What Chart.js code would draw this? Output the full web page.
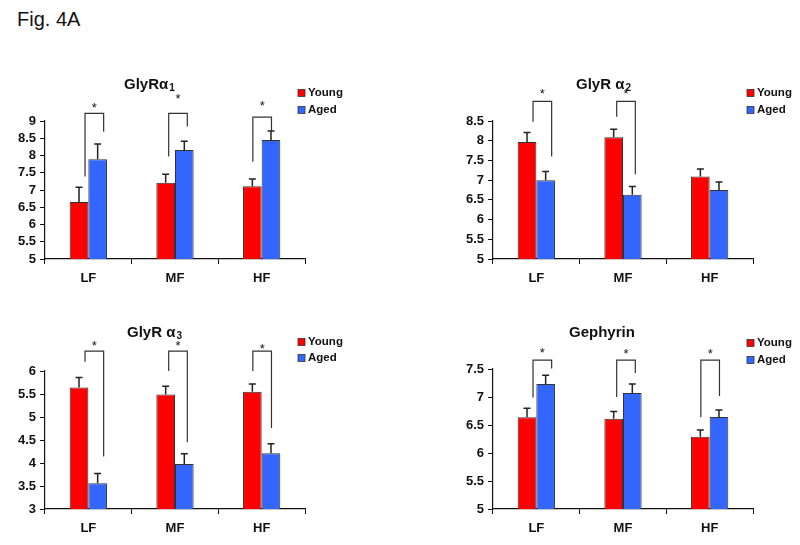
<!DOCTYPE html>
<html>
<head>
<meta charset="utf-8">
<script src="https://cdn.jsdelivr.net/npm/chart.js@4"></script>
<style>
  body { margin: 0; background: #fff; }
  #page { position: relative; width: 800px; height: 545px; overflow: hidden; }
  #fig { position: absolute; left: 17px; top: 8px; font: 20px "Liberation Sans", Arial, sans-serif; color: #111; }
  canvas { position: absolute; }
</style>
</head>
<body>
<div id="page">
  <div id="fig">Fig. 4A</div>
  <canvas id="c1" width="400" height="240" style="left:0;top:60px"></canvas>
  <canvas id="c2" width="400" height="240" style="left:400px;top:60px"></canvas>
  <canvas id="c3" width="400" height="245" style="left:0;top:300px"></canvas>
  <canvas id="c4" width="400" height="245" style="left:400px;top:300px"></canvas>
</div>
<script>
const categories = ["LF", "MF", "HF"];
const seriesNames = ["Young", "Aged"];

// GlyR alpha1
const a1Young = [6.65, 7.21, 7.11];
const a1YoungErr = [0.43, 0.25, 0.21];
const a1Aged = [7.89, 8.16, 8.45];
const a1AgedErr = [0.44, 0.25, 0.26];
const a1Ticks = [5, 5.5, 6, 6.5, 7, 7.5, 8, 8.5, 9];
const a1BracketTop = [9.22, 9.22, 9.11];
const a1BracketYoung = [7.39, 7.97, 7.82];
const a1BracketAged = [8.69, 8.84, 8.71];
const a1Star = [9.46, 9.72, 9.52];

// GlyR alpha2
const a2Young = [7.97, 8.09, 7.09];
const a2YoungErr = [0.24, 0.2, 0.19];
const a2Aged = [7.0, 6.63, 6.75];
const a2AgedErr = [0.22, 0.21, 0.2];
const a2Ticks = [5, 5.5, 6, 6.5, 7, 7.5, 8, 8.5];
const a2BracketTop = [9.0, 9.0, null];
const a2BracketYoung = [8.48, 8.61, null];
const a2BracketAged = [7.6, 7.15, null];
const a2Star = [9.24, 9.24, null];

// GlyR alpha3
const a3Young = [5.64, 5.49, 5.55];
const a3YoungErr = [0.22, 0.18, 0.17];
const a3Aged = [3.56, 3.98, 4.21];
const a3AgedErr = [0.21, 0.22, 0.21];
const a3Ticks = [3, 3.5, 4, 4.5, 5, 5.5, 6];
const a3BracketTop = [6.43, 6.43, 6.43];
const a3BracketYoung = [6.2, 6.0, 6.0];
const a3BracketAged = [4.14, 4.45, 4.76];
const a3Star = [6.61, 6.61, 6.54];

// Gephyrin
const gYoung = [6.64, 6.61, 6.29];
const gYoungErr = [0.16, 0.13, 0.12];
const gAged = [7.23, 7.07, 6.645];
const gAgedErr = [0.16, 0.16, 0.125];
const gTicks = [5, 5.5, 6, 6.5, 7, 7.5];
const gBracketTop = [7.66, 7.66, 7.66];
const gBracketYoung = [6.99, 7.0, 6.64];
const gBracketAged = [7.51, 7.43, 7.02];
const gStar = [7.84, 7.82, 7.82];

const FONT = '"Liberation Sans", Arial, sans-serif';
const RED = "#ff0000";
const BLUE = "#3366ff";
const bracketShift = [6, 3, 0.5];

const panelDecor = {
  id: "panelDecor",
  afterDatasetsDraw(chart) {
    const ctx = chart.ctx;
    const y = chart.scales.y;
    ctx.save();
    ctx.strokeStyle = "#222";
    ctx.lineWidth = 1.5;
    chart.data.datasets.forEach((ds, di) => {
      chart.getDatasetMeta(di).data.forEach((bar, i) => {
        const top = y.getPixelForValue(ds.data[i] + ds.errors[i]);
        ctx.beginPath();
        ctx.moveTo(bar.x, bar.y);
        ctx.lineTo(bar.x, top);
        ctx.moveTo(bar.x - 3.5, top);
        ctx.lineTo(bar.x + 3.5, top);
        ctx.stroke();
      });
    });
    ctx.restore();
  },
  afterDraw(chart, args, o) {
    const ctx = chart.ctx;
    const y = chart.scales.y;
    const young = chart.getDatasetMeta(0).data;
    const aged = chart.getDatasetMeta(1).data;
    ctx.save();

    // significance brackets
    ctx.strokeStyle = "#333";
    ctx.lineWidth = 1.2;
    ctx.fillStyle = "#111";
    ctx.font = "13px " + FONT;
    ctx.textAlign = "center";
    ctx.textBaseline = "middle";
    o.top.forEach((t, i) => {
      if (t == null) return;
      const xl = young[i].x + bracketShift[i];
      const xr = aged[i].x + bracketShift[i];
      const yt = y.getPixelForValue(t);
      ctx.beginPath();
      ctx.moveTo(xl, y.getPixelForValue(o.youngEnd[i]));
      ctx.lineTo(xl, yt);
      ctx.lineTo(xr, yt);
      ctx.lineTo(xr, y.getPixelForValue(o.agedEnd[i]));
      ctx.stroke();
      ctx.fillText("*", (xl + xr) / 2, y.getPixelForValue(o.star[i]) + 3);
    });

    // title with subscript
    ctx.textAlign = "left";
    ctx.textBaseline = "alphabetic";
    ctx.font = "bold 15px " + FONT;
    ctx.fillText(o.title, o.titleX, o.titleY);
    if (o.sub) {
      const w = ctx.measureText(o.title).width;
      ctx.font = "bold 10px " + FONT;
      ctx.fillText(o.sub, o.titleX + w + 1, o.titleY + 1.5);
    }

    // legend
    ctx.font = "bold 11.5px " + FONT;
    ctx.textBaseline = "middle";
    chart.data.datasets.forEach((ds, di) => {
      const cy = o.legendY[di];
      ctx.fillStyle = ds.backgroundColor;
      ctx.fillRect(o.legendX, cy - 3.5, 7, 7);
      ctx.strokeStyle = "#333";
      ctx.lineWidth = 0.8;
      ctx.strokeRect(o.legendX, cy - 3.5, 7, 7);
      ctx.fillStyle = "#111";
      ctx.fillText(ds.label, o.legendX + 10, cy);
    });
    ctx.restore();
  }
};

function makePanel(id, young, youngErr, aged, agedErr, ticks, pad, decor) {
  const ctx = document.getElementById(id).getContext("2d");
  return new Chart(ctx, {
    type: "bar",
    data: {
      labels: categories,
      datasets: [
        { label: seriesNames[0], data: young, errors: youngErr, backgroundColor: RED,
          borderColor: "#333", borderWidth: 1 },
        { label: seriesNames[1], data: aged, errors: agedErr, backgroundColor: BLUE,
          borderColor: "#333", borderWidth: 1 }
      ]
    },
    options: {
      responsive: false,
      animation: false,
      layout: { padding: { left: 0, top: pad.top, right: pad.right, bottom: pad.bottom } },
      datasets: { bar: { categoryPercentage: 0.43, barPercentage: 1.0 } },
      scales: {
        x: {
          afterFit: s => { s.height = 30; },
          grid: { display: true, drawOnChartArea: false, offset: true, tickLength: 5, color: "#111" },
          border: { display: true, color: "#111", width: 1.2 },
          ticks: { color: "#111", padding: 7, font: { family: FONT, size: 13, weight: "bold" } }
        },
        y: {
          min: ticks[0],
          max: ticks[ticks.length - 1],
          afterFit: s => { s.width = pad.left; },
          afterBuildTicks: s => { s.ticks = ticks.map(v => ({ value: v })); },
          grid: { display: true, drawOnChartArea: false, tickLength: 5, color: "#111" },
          border: { display: true, color: "#111", width: 1.2 },
          ticks: { color: "#111", padding: 4, autoSkip: false, callback: v => String(v),
            font: { family: FONT, size: 13, weight: "bold" } }
        }
      },
      plugins: {
        legend: { display: false },
        tooltip: { enabled: false },
        panelDecor: decor
      }
    },
    plugins: [panelDecor]
  });
}

document.addEventListener("DOMContentLoaded", () => {
  makePanel("c1", a1Young, a1YoungErr, a1Aged, a1AgedErr, a1Ticks,
    { left: 45, top: 61, right: 95, bottom: 11 },
    { title: "GlyRα", sub: "1", titleX: 124, titleY: 29,
      legendX: 298, legendY: [33, 50],
      top: a1BracketTop, youngEnd: a1BracketYoung, agedEnd: a1BracketAged, star: a1Star });

  makePanel("c2", a2Young, a2YoungErr, a2Aged, a2AgedErr, a2Ticks,
    { left: 93, top: 61, right: 47, bottom: 11 },
    { title: "GlyR α", sub: "2", titleX: 176, titleY: 29,
      legendX: 347, legendY: [33, 50],
      top: a2BracketTop, youngEnd: a2BracketYoung, agedEnd: a2BracketAged, star: a2Star });

  makePanel("c3", a3Young, a3YoungErr, a3Aged, a3AgedErr, a3Ticks,
    { left: 45, top: 71, right: 95, bottom: 6 },
    { title: "GlyR α", sub: "3", titleX: 127, titleY: 37,
      legendX: 298, legendY: [42, 58],
      top: a3BracketTop, youngEnd: a3BracketYoung, agedEnd: a3BracketAged, star: a3Star });

  makePanel("c4", gYoung, gYoungErr, gAged, gAgedErr, gTicks,
    { left: 93, top: 69, right: 47, bottom: 6 },
    { title: "Gephyrin", sub: "", titleX: 169, titleY: 37,
      legendX: 347, legendY: [43, 60],
      top: gBracketTop, youngEnd: gBracketYoung, agedEnd: gBracketAged, star: gStar });
});
</script>
</body>
</html>
